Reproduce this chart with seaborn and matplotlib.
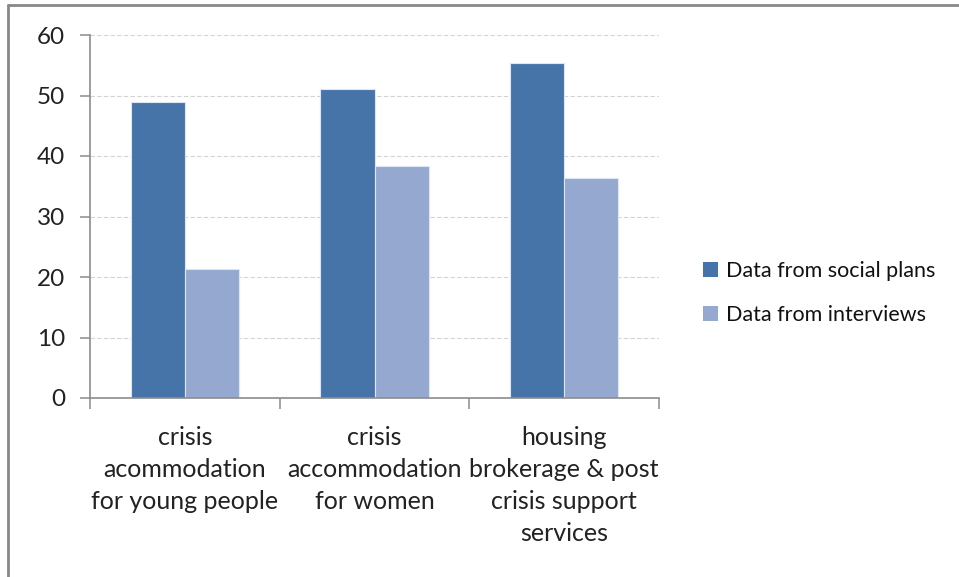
import matplotlib
matplotlib.use("Agg")
import matplotlib.pyplot as plt
import seaborn as sns
import pandas as pd
from matplotlib.lines import Line2D
from matplotlib.patches import Patch

categories = ["crisis\nacommodation\nfor young people",
              "crisis\naccommodation\nfor women",
              "housing\nbrokerage & post\ncrisis support\nservices"]
series_names = ["Data from social plans", "Data from interviews"]
social_plans = [49.0, 51.1, 55.4]
interviews = [21.3, 38.4, 36.3]
y_ticks = [0, 10, 20, 30, 40, 50, 60]

colors = ["#4674A8", "#95A9D0"]

df = pd.DataFrame({
    "category": categories * 2,
    "series": [series_names[0]] * 3 + [series_names[1]] * 3,
    "value": social_plans + interviews,
})

sns.set_theme(style="white")
plt.rcParams["font.family"] = ["Lato", "DejaVu Sans"]

fig = plt.figure(figsize=(9.59, 5.77), dpi=100)
ax = fig.add_axes([90/959, 1-398/577, (659-90)/959, (398-35)/577])

sns.barplot(data=df, x="category", y="value", hue="series", palette=colors,
            width=0.57, ax=ax, legend=False, edgecolor="#dde6f2", linewidth=0.8,
            saturation=1)

ax.set_ylim(0, 60)
ax.set_xlim(-0.5, 2.5)
ax.set_yticks(y_ticks)
ax.set_yticklabels([str(t) for t in y_ticks], fontsize=17.5, color="#222222")
ax.yaxis.grid(True, linestyle=(0, (4, 2)), color="#d4d4d4", linewidth=0.8)
ax.set_axisbelow(True)
ax.set_xlabel("")
ax.set_ylabel("")

for s in ["top", "right"]:
    ax.spines[s].set_visible(False)
for s in ["left", "bottom"]:
    ax.spines[s].set_color("#8c8c8c")
    ax.spines[s].set_linewidth(1.2)

ax.tick_params(axis="y", which="major", left=True, length=7, width=1.1,
               color="#8c8c8c", pad=11)
ax.set_xticks([0, 1, 2])
ax.set_xticklabels(categories, fontsize=18, color="#222222", linespacing=1.48)
ax.tick_params(axis="x", which="major", bottom=False, pad=14)
# minor ticks at category boundaries
ax.set_xticks([-0.5, 0.5, 1.5, 2.5], minor=True)
ax.tick_params(axis="x", which="minor", bottom=True, length=8, width=1.1,
               color="#8c8c8c")

handles = [Patch(facecolor=colors[0], edgecolor="none"),
           Patch(facecolor=colors[1], edgecolor="none")]
fig.legend(handles, series_names, loc="center left",
           bbox_to_anchor=(684/959, 1-293/577), frameon=False, fontsize=15.5,
           handlelength=0.7, handleheight=0.7, handletextpad=0.35,
           labelspacing=1.15, labelcolor="#111111")

# outer frame (top and left edges)
fig.add_artist(Line2D([8/959, 1.0], [1-5/577, 1-5/577], color="#888888",
                      linewidth=2, transform=fig.transFigure))
fig.add_artist(Line2D([8/959, 8/959], [0.0, 1-5/577], color="#888888",
                      linewidth=2, transform=fig.transFigure))

fig.savefig("out.png", dpi=100, facecolor="white")
